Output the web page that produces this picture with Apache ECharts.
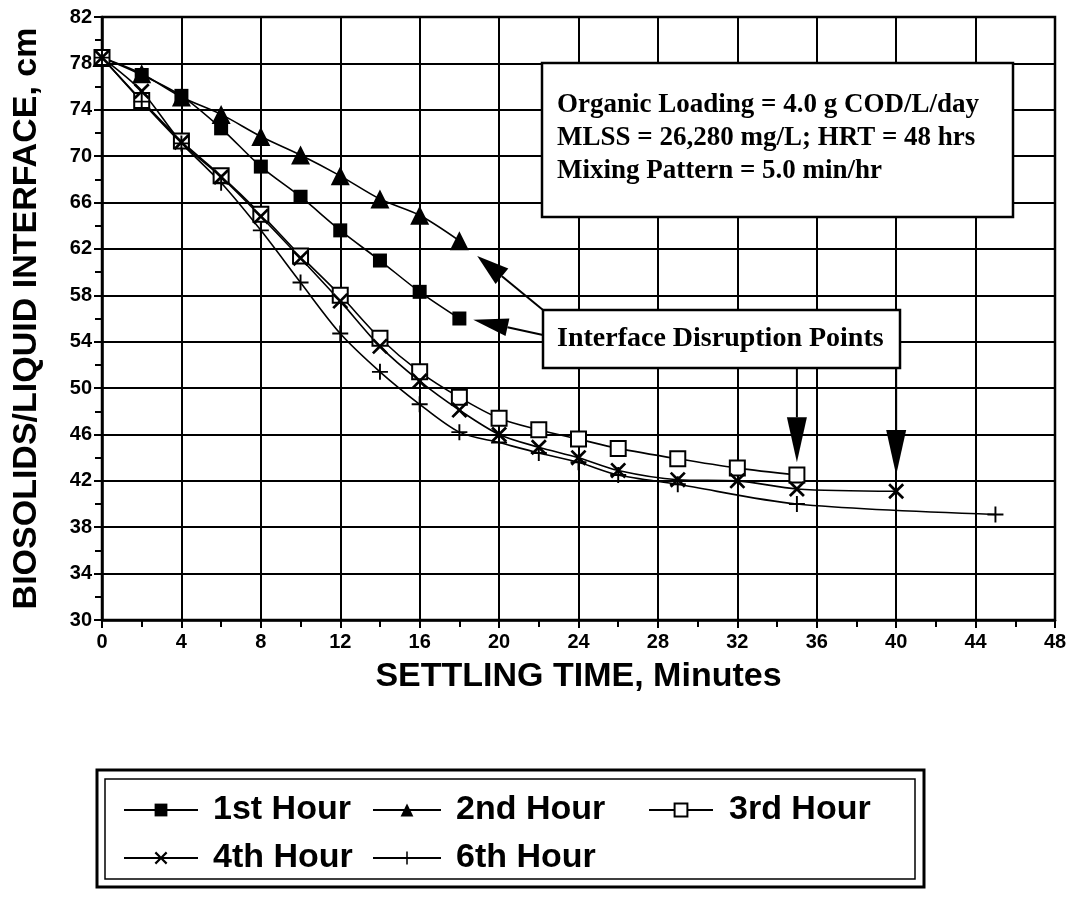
<!DOCTYPE html>
<html><head><meta charset="utf-8">
<script src="https://cdn.jsdelivr.net/npm/echarts@6/dist/echarts.min.js"></script>
<style>html,body{margin:0;padding:0;background:#fff}#c{width:1075px;height:912px}</style>
</head><body><div id="c"></div>
<script>
// ---- tick labels ----
const xTickLabels = [0,4,8,12,16,20,24,28,32,36,40,44,48];
const yTickLabels = [30,34,38,42,46,50,54,58,62,66,70,74,78,82];

// ---- data (settling time, minutes / interface height, cm) ----
const time12 = [0,2,4,6,8,10,12,14,16,18];
const hour1 = [78.5,77.0,75.2,72.4,69.1,66.5,63.6,61.0,58.3,56.0];
const hour2 = [78.5,77.1,75.1,73.6,71.7,70.1,68.3,66.3,64.9,62.7];
const time3 = [0,2,4,6,8,10,12,14,16,18,20,22,24,26,29,32,35];
const hour3 = [78.5,74.8,71.3,68.3,65.0,61.4,58.0,54.3,51.4,49.2,47.4,46.4,45.6,44.8,43.9,43.1,42.5];
const time4 = [0,2,4,6,8,10,12,14,16,18,20,22,24,26,29,32,35,40];
const hour4 = [78.5,75.6,71.2,68.2,64.8,61.2,57.5,53.6,50.6,48.1,46.0,44.9,44.0,42.9,42.1,42.0,41.3,41.1];
const time6 = [0,2,4,6,8,10,12,14,16,18,20,22,24,26,29,35,45];
const hour6 = [78.5,74.7,71.1,67.7,63.6,59.1,54.7,51.4,48.6,46.2,45.3,44.4,43.6,42.5,41.7,40.0,39.1];
const seriesNames = ['1st Hour','2nd Hour','3rd Hour','4th Hour','6th Hour'];

// annotation arrow tips (data coords)
const tipA = [18.9, 61.4];
const tipB = [18.7, 55.9];
const tipC = [35, 43.6];
const tipD = [40, 42.5];

const infoLines = ['Organic Loading = 4.0 g COD/L/day','MLSS = 26,280 mg/L; HRT = 48 hrs','Mixing Pattern = 5.0 min/hr'];
const disruptText = 'Interface Disruption Points';

const pair = (t, v) => t.map((x, i) => [x, v[i]]);
const X_PATH = 'path://M0,1.2L1.2,0L5,3.8L8.8,0L10,1.2L6.2,5L10,8.8L8.8,10L5,6.2L1.2,10L0,8.8L3.8,5Z';
const PLUS_PATH = 'path://M4.4,0H5.6V4.4H10V5.6H5.6V10H4.4V5.6H0V4.4H4.4Z';

const FONT = '"Liberation Sans", Arial, sans-serif';
const SERIF = '"Liberation Serif", "Times New Roman", serif';

const chart = echarts.init(document.getElementById('c'), null, {renderer: 'canvas'});

function lineSeries(name, data, symbol, size, extra) {
  return Object.assign({
    name, type: 'line', data, smooth: 0.3, symbol, symbolSize: size,
    lineStyle: {color: '#000', width: 1.6},
    itemStyle: {color: '#000', borderColor: '#000', borderWidth: 0},
    emphasis: {disabled: true}, animation: false
  }, extra || {});
}

function legendAt(name, left, top, iw, pad) {
  return {
    data: [name], left, top, orient: 'horizontal', itemWidth: iw, itemHeight: 16,
    padding: 0, selectedMode: false,
    textStyle: {fontSize: 34, fontWeight: 'bold', fontFamily: FONT, color: '#000', padding: [0,0,0,pad]}
  };
}

const option = {
  backgroundColor: '#fff',
  animation: false,
  grid: {left: 102, right: 20, top: 17, bottom: 292, show: true, borderColor: '#000', borderWidth: 2.5, backgroundColor: 'transparent'},
  xAxis: {
    type: 'value', min: xTickLabels[0], max: xTickLabels[xTickLabels.length-1],
    interval: xTickLabels[1]-xTickLabels[0],
    name: 'SETTLING TIME, Minutes', nameLocation: 'middle', nameGap: 40,
    nameTextStyle: {fontSize: 34, fontWeight: 'bold', fontFamily: FONT, color: '#000'},
    axisLine: {show: true, lineStyle: {color: '#000', width: 2.5}},
    axisTick: {show: true, inside: false, length: 8, lineStyle: {color: '#000', width: 2}},
    minorTick: {show: true, splitNumber: 2, length: 7, lineStyle: {color: '#000', width: 2}},
    splitLine: {show: true, lineStyle: {color: '#000', width: 2}},
    axisLabel: {fontSize: 20, fontWeight: 'bold', fontFamily: FONT, color: '#000', margin: 12}
  },
  yAxis: {
    type: 'value', min: yTickLabels[0], max: yTickLabels[yTickLabels.length-1],
    interval: yTickLabels[1]-yTickLabels[0],
    name: 'BIOSOLIDS/LIQUID INTERFACE, cm', nameLocation: 'middle', nameGap: 58,
    nameTextStyle: {fontSize: 34, fontWeight: 'bold', fontFamily: FONT, color: '#000'},
    axisLine: {show: true, lineStyle: {color: '#000', width: 2.5}},
    axisTick: {show: true, inside: false, length: 8, lineStyle: {color: '#000', width: 2}},
    minorTick: {show: true, splitNumber: 2, length: 7, lineStyle: {color: '#000', width: 2}},
    splitLine: {show: true, lineStyle: {color: '#000', width: 2}},
    axisLabel: {fontSize: 20, fontWeight: 'bold', fontFamily: FONT, color: '#000', margin: 10}
  },
  legend: [
    legendAt(seriesNames[0], 123, 793, 74, 10),
    legendAt(seriesNames[1], 372, 793, 68, 10),
    legendAt(seriesNames[2], 648, 793, 64, 11),
    legendAt(seriesNames[3], 123, 841, 74, 10),
    legendAt(seriesNames[4], 372, 841, 68, 10)
  ],
  series: [
    lineSeries(seriesNames[0], pair(time12, hour1), 'rect', 14),
    lineSeries(seriesNames[1], pair(time12, hour2), 'triangle', 19),
    lineSeries(seriesNames[2], pair(time3, hour3), 'emptyRect', 15, {itemStyle: {color: '#000', borderColor: '#000', borderWidth: 1.6}}),
    lineSeries(seriesNames[3], pair(time4, hour4), X_PATH, 16),
    lineSeries(seriesNames[4], pair(time6, hour6), PLUS_PATH, 16)
  ]
};
chart.setOption(option);

// ---- annotations ----
const px = p => chart.convertToPixel({gridIndex: 0}, p);
function arrow(tip, tail, headLen, halfW) {
  const dx = tip[0]-tail[0], dy = tip[1]-tail[1];
  const L = Math.sqrt(dx*dx+dy*dy), ux = dx/L, uy = dy/L;
  const bx = tip[0]-ux*headLen, by = tip[1]-uy*headLen;
  return [
    {type: 'line', z: 110, shape: {x1: tail[0], y1: tail[1], x2: bx, y2: by}, style: {stroke: '#000', lineWidth: 2}},
    {type: 'polygon', z: 111, shape: {points: [tip, [bx - uy*halfW, by + ux*halfW], [bx + uy*halfW, by - ux*halfW]]}, style: {fill: '#000'}}
  ];
}
const infoBox = {x: 542, y: 63, w: 471, h: 154};
const disBox = {x: 543, y: 310, w: 357, h: 58};
const pA = px(tipA), pB = px(tipB), pC = px(tipC), pD = px(tipD);
const g = [];
g.push({type: 'rect', z: 105, shape: {x: infoBox.x, y: infoBox.y, width: infoBox.w, height: infoBox.h}, style: {fill: '#fff', stroke: '#000', lineWidth: 2.5}});
g.push({type: 'text', z: 106, style: {x: 557, y: 89, text: infoLines.join('\n'), fontSize: 27, fontWeight: 'bold', fontFamily: SERIF, fill: '#000', lineHeight: 33, align: 'left', verticalAlign: 'top'}});
g.push({type: 'rect', z: 105, shape: {x: disBox.x, y: disBox.y, width: disBox.w, height: disBox.h}, style: {fill: '#fff', stroke: '#000', lineWidth: 2.5}});
g.push({type: 'text', z: 106, style: {x: 557, y: disBox.y + disBox.h/2, text: disruptText, fontSize: 28, fontWeight: 'bold', fontFamily: SERIF, fill: '#000', align: 'left', verticalAlign: 'middle'}});
g.push(...arrow(pA, [disBox.x, disBox.y], 32, 10));
g.push(...arrow(pB, [disBox.x, disBox.y + 25], 35, 9));
g.push(...arrow(pC, [pC[0], disBox.y + disBox.h], 45, 10));
g.push(...arrow(pD, [pD[0], disBox.y + disBox.h], 45, 10));
// legend frame (double border)
g.push({type: 'rect', z: 50, shape: {x: 97, y: 770, width: 827, height: 117}, style: {fill: 'none', stroke: '#000', lineWidth: 3}});
g.push({type: 'rect', z: 50, shape: {x: 105, y: 779, width: 810, height: 100}, style: {fill: 'none', stroke: '#000', lineWidth: 1.5}});
chart.setOption({graphic: g});
</script>
</body></html>
